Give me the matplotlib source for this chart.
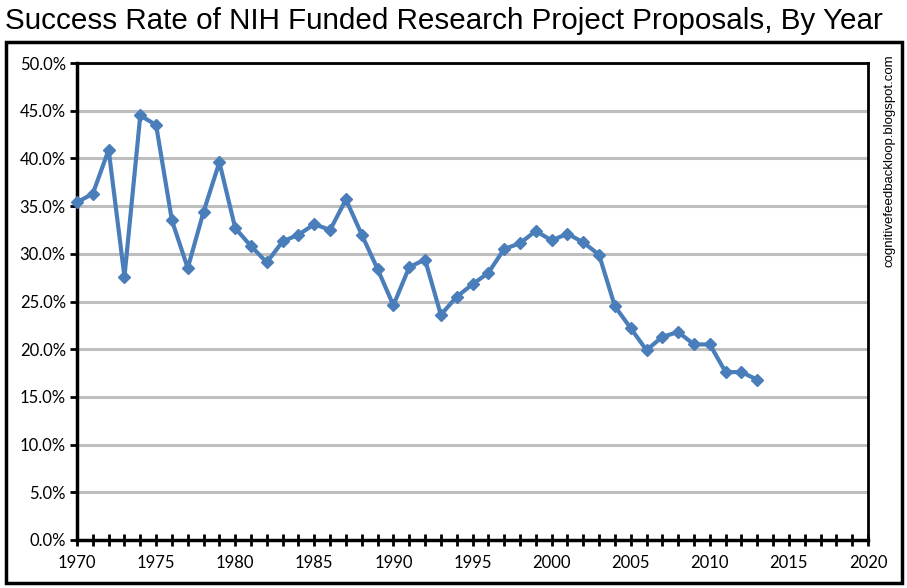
import matplotlib.pyplot as plt
from matplotlib.patches import Rectangle
from matplotlib.ticker import MultipleLocator, FuncFormatter

# success rate (%)
years = list(range(1970, 2014))
rate = [35.4, 36.3, 40.9, 27.6, 44.5, 43.5, 33.5, 28.5, 34.4, 39.6,
        32.7, 30.8, 29.1, 31.3, 32.0, 33.1, 32.5, 35.7, 32.0, 28.4,
        24.6, 28.6, 29.4, 23.6, 25.5, 26.8, 28.0, 30.5, 31.1, 32.4,
        31.4, 32.1, 31.2, 29.9, 24.5, 22.2, 19.9, 21.3, 21.8, 20.5,
        20.5, 17.6, 17.6, 16.8]

title = "Success Rate of NIH Funded Research Project Proposals, By Year"
credit = "cognitivefeedbackloop.blogspot.com"

W, H = 907, 588
fig = plt.figure(figsize=(W / 100, H / 100), dpi=100)
ax = fig.add_axes([77 / W, 1 - 540 / H, (868 - 77) / W, (540 - 63) / H])

# outer frame
fig.patches.append(Rectangle((6 / W, 1 - 583 / H), (902 - 6) / W, (583 - 42) / H,
                             transform=fig.transFigure, fill=False,
                             edgecolor='black', linewidth=2.5))

ax.plot(years, rate, color='#4A7EBB', linewidth=3, marker='D',
        markersize=6.5, zorder=3, clip_on=False)

ax.set_xlim(1970, 2020)
ax.set_ylim(0, 50)
ax.xaxis.set_major_locator(MultipleLocator(5))
ax.xaxis.set_minor_locator(MultipleLocator(1))
ax.yaxis.set_major_locator(MultipleLocator(5))
ax.yaxis.set_major_formatter(FuncFormatter(lambda v, p: f'{v:.1f}%'))
ax.grid(axis='y', color='#BEBEBE', linewidth=2.2)
ax.set_axisbelow(True)

for s in ax.spines.values():
    s.set_linewidth(2.0)
    s.set_color('black')
ax.spines['left'].set_linewidth(2.5)
ax.spines['bottom'].set_linewidth(2.5)

ax.tick_params(axis='x', which='both', direction='inout', length=9, width=2,
               pad=6)
ax.tick_params(axis='y', direction='out', length=5, width=2, pad=3)
for lab in ax.get_xticklabels() + ax.get_yticklabels():
    lab.set_fontfamily('Lato')
    lab.set_fontsize(12)

fig.text(5 / W, 1 - 21 / H, title, fontsize=21.3, family='Liberation Sans',
         ha='left', va='center')
fig.text(889 / W, 1 - 54 / H, credit, fontsize=9.5, family='Liberation Sans',
         rotation=90, ha='center', va='top')

fig.savefig('out.png', dpi=100)
